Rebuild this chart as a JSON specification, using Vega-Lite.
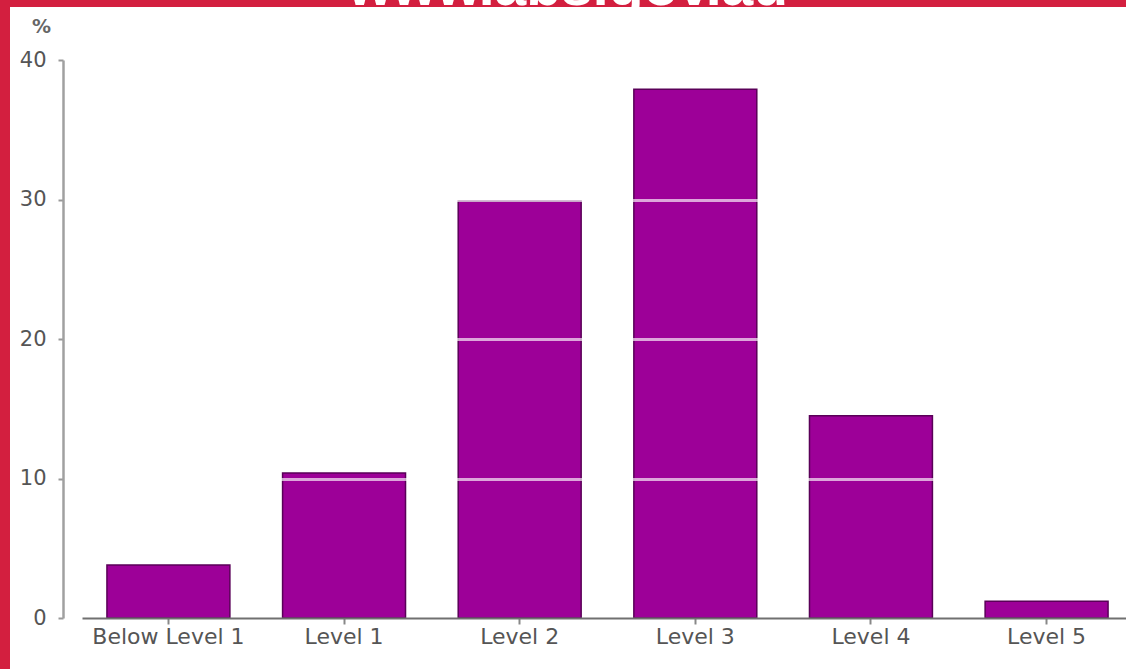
{
  "$schema": "https://vega.github.io/schema/vega-lite/v6.json",
  "width": 1116,
  "height": 662,
  "autosize": "none",
  "padding": {"left": 10, "top": 7, "right": 0, "bottom": 0},
  "background": "#d31f3f",
  "config": {"view": {"fill": "white", "stroke": null}},
  "title": {
    "text": "www.abs.gov.au",
    "color": "white",
    "font": "Liberation Sans",
    "fontSize": 57,
    "fontWeight": "bold",
    "anchor": "middle",
    "frame": "group",
    "baseline": "alphabetic",
    "offset": -55
  },
  "data": {
    "values": [
      {"level": "Below Level 1", "pct": 3.8},
      {"level": "Level 1", "pct": 10.4},
      {"level": "Level 2", "pct": 29.9},
      {"level": "Level 3", "pct": 37.9},
      {"level": "Level 4", "pct": 14.5},
      {"level": "Level 5", "pct": 1.2}
    ]
  },
  "mark": {"type": "bar", "color": "#9d0098", "stroke": "#5a0058", "strokeWidth": 1.5},
  "encoding": {
    "x": {
      "field": "level",
      "type": "nominal",
      "sort": null,
      "scale": {"range": [72, 1123], "paddingInner": 0.3, "paddingOuter": 0.142},
      "axis": {
        "orient": "bottom",
        "offset": -51,
        "title": null,
        "labelAngle": 0,
        "domainColor": "#707070",
        "domainWidth": 2,
        "tickColor": "#888888",
        "tickSize": 6,
        "tickWidth": 2,
        "labelFont": "DejaVu Sans",
        "labelFontSize": 22,
        "labelColor": "#555555",
        "labelPadding": 2,
        "zindex": 1
      }
    },
    "y": {
      "field": "pct",
      "type": "quantitative",
      "scale": {"domain": [0, 40], "range": [611, 53], "nice": false},
      "axis": {
        "orient": "left",
        "offset": -53,
        "values": [0, 10, 20, 30, 40],
        "domainColor": "#a0a0a0",
        "domainWidth": 2.5,
        "tickColor": "#999999",
        "tickSize": 5,
        "tickWidth": 2,
        "labelFont": "DejaVu Sans",
        "labelFontSize": 21,
        "labelColor": "#555555",
        "labelPadding": 12,
        "grid": true,
        "gridColor": "#ffffff",
        "gridWidth": 3,
        "gridOpacity": {"condition": {"test": "datum.value === 0 || datum.value === 40", "value": 0}, "value": 0.65},
        "title": "%",
        "titleAngle": 0,
        "titleX": -22,
        "titleY": 19,
        "titleAlign": "center",
        "titleBaseline": "middle",
        "titleFont": "DejaVu Sans",
        "titleFontSize": 19,
        "titleFontWeight": "bold",
        "titleColor": "#666666",
        "zindex": 1
      }
    }
  }
}
